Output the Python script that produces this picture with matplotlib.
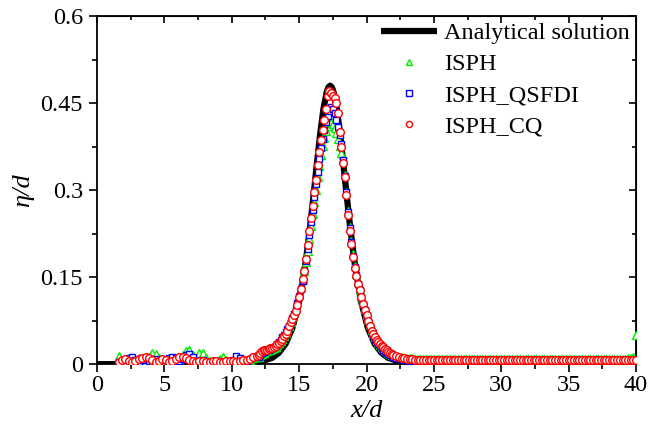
import numpy as np
import matplotlib
matplotlib.use("Agg")
import matplotlib.pyplot as plt
from matplotlib.ticker import MultipleLocator

plt.rcParams['font.family'] = ['Liberation Serif', 'DejaVu Serif']

# analytical solitary wave profile
x_exact = [0.0, 2.0, 4.0, 6.0, 8.0, 10.0, 11.0, 12.0, 13.0, 13.5, 14.0, 14.5,
           15.0, 15.5, 15.8, 16.05, 16.3, 16.55, 16.8, 17.05, 17.175, 17.3,
           17.425, 17.55, 17.8, 18.05, 18.3, 18.55, 18.8, 19.1, 19.6, 20.1,
           20.6, 21.1, 21.6, 22.6, 23.6, 24.6, 27.0, 30.0, 35.0, 40.0]
eta_exact = [0.0, 0.0, 0.0, 0.0, 0.0, 0.0003, 0.001, 0.0033, 0.0109, 0.0197,
             0.0352, 0.0623, 0.1075, 0.178, 0.2337, 0.2864, 0.3416, 0.3946,
             0.4393, 0.4694, 0.4773, 0.480, 0.4773, 0.4694, 0.4393, 0.3946,
             0.3416, 0.2864, 0.2337, 0.178, 0.1075, 0.0623, 0.0352, 0.0197,
             0.0109, 0.0033, 0.001, 0.0003, 0.0, 0.0, 0.0, 0.0]

# particle positions on the free surface
x_left = np.arange(1.6, 11.9, 0.25)      # 42 points
x_mid = np.arange(12.0, 21.9, 0.125)     # 80 points
x_tail = np.arange(22.0, 40.01, 0.2)     # 91 points
x_sph = np.concatenate([x_left, x_mid, x_tail])

eta_isph = [
    # left
    0.014, 0.008, 0.005, 0.009, 0.006, 0.004, 0.010, 0.008, 0.005, 0.012,
    0.019, 0.017, 0.010, 0.006, 0.004, 0.008, 0.006, 0.004, 0.009, 0.015,
    0.022, 0.024, 0.016, 0.011, 0.019, 0.020, 0.010, 0.006, 0.004, 0.005,
    0.009, 0.013, 0.008, 0.004, 0.003, 0.005, 0.006, 0.004, 0.006, 0.008,
    0.010, 0.012,
    # wave
    0.012, 0.015, 0.018, 0.020, 0.022, 0.023, 0.024, 0.025, 0.026, 0.028,
    0.030, 0.033, 0.036, 0.040, 0.044, 0.049, 0.054, 0.060, 0.066, 0.073,
    0.081, 0.089, 0.098, 0.108, 0.120, 0.133, 0.146, 0.160, 0.176, 0.195,
    0.216, 0.238, 0.258, 0.280, 0.300, 0.322, 0.342, 0.360, 0.376, 0.390,
    0.402, 0.410, 0.416, 0.418, 0.414, 0.407, 0.398, 0.388, 0.376, 0.364,
    0.352, 0.326, 0.296, 0.264, 0.236, 0.212, 0.190, 0.170, 0.155, 0.141,
    0.128, 0.116, 0.105, 0.095, 0.085, 0.076, 0.067, 0.059, 0.052, 0.046,
    0.041, 0.037, 0.033, 0.030, 0.027, 0.024, 0.022, 0.020, 0.018, 0.016,
    # tail
    0.015, 0.014, 0.013, 0.012, 0.011, 0.011, 0.010, 0.010, 0.009, 0.009,
    0.009, 0.009, 0.009, 0.009, 0.009, 0.009, 0.009, 0.009, 0.009, 0.009,
    0.009, 0.009, 0.009, 0.009, 0.009, 0.009, 0.009, 0.009, 0.009, 0.009,
    0.009, 0.009, 0.009, 0.009, 0.009, 0.009, 0.009, 0.009, 0.009, 0.009,
    0.009, 0.009, 0.009, 0.009, 0.009, 0.009, 0.009, 0.009, 0.009, 0.009,
    0.009, 0.009, 0.009, 0.009, 0.009, 0.009, 0.009, 0.009, 0.009, 0.009,
    0.009, 0.009, 0.009, 0.009, 0.009, 0.009, 0.009, 0.009, 0.009, 0.009,
    0.009, 0.009, 0.009, 0.009, 0.009, 0.009, 0.009, 0.009, 0.009, 0.009,
    0.009, 0.009, 0.009, 0.009, 0.009, 0.009, 0.009, 0.010, 0.010, 0.013,
    0.050,
]

eta_qsfdi = [
    # left
    0.003, 0.006, 0.004, 0.010, 0.013, 0.008, 0.004, 0.007, 0.010, 0.006,
    0.003, 0.009, 0.006, 0.004, 0.008, 0.011, 0.012, 0.010, 0.005, 0.009,
    0.015, 0.018, 0.012, 0.006, 0.004, 0.007, 0.003, 0.002, 0.004, 0.006,
    0.005, 0.003, 0.002, 0.004, 0.007, 0.014, 0.011, 0.008, 0.005, 0.009,
    0.012, 0.014,
    # wave
    0.013, 0.016, 0.019, 0.021, 0.023, 0.024, 0.025, 0.026, 0.027, 0.029,
    0.031, 0.034, 0.038, 0.042, 0.046, 0.050, 0.055, 0.060, 0.066, 0.072,
    0.079, 0.087, 0.095, 0.105, 0.117, 0.130, 0.144, 0.160, 0.178, 0.198,
    0.222, 0.245, 0.265, 0.288, 0.310, 0.332, 0.354, 0.372, 0.388, 0.404,
    0.418, 0.428, 0.436, 0.444, 0.440, 0.432, 0.420, 0.408, 0.395, 0.380,
    0.352, 0.325, 0.296, 0.262, 0.234, 0.210, 0.187, 0.168, 0.153, 0.139,
    0.127, 0.115, 0.103, 0.093, 0.083, 0.073, 0.064, 0.056, 0.050, 0.044,
    0.039, 0.035, 0.031, 0.028, 0.025, 0.022, 0.020, 0.018, 0.016, 0.014,
    # tail
    0.012, 0.011, 0.010, 0.009, 0.008, 0.007, 0.006, 0.006, 0.005, 0.005,
    0.005, 0.004, 0.004, 0.004, 0.004, 0.004, 0.004, 0.004, 0.004, 0.004,
    0.004, 0.004, 0.004, 0.004, 0.004, 0.004, 0.004, 0.004, 0.004, 0.004,
    0.004, 0.004, 0.004, 0.004, 0.004, 0.004, 0.004, 0.004, 0.004, 0.004,
    0.004, 0.004, 0.004, 0.004, 0.004, 0.004, 0.004, 0.004, 0.004, 0.004,
    0.004, 0.004, 0.004, 0.004, 0.004, 0.004, 0.004, 0.004, 0.004, 0.004,
    0.004, 0.004, 0.004, 0.004, 0.004, 0.004, 0.004, 0.004, 0.004, 0.004,
    0.004, 0.004, 0.004, 0.004, 0.004, 0.004, 0.004, 0.004, 0.004, 0.004,
    0.004, 0.004, 0.004, 0.004, 0.004, 0.004, 0.004, 0.004, 0.004, 0.004,
    0.004,
]

eta_cq = [
    # left
    0.004, 0.007, 0.009, 0.006, 0.004, 0.006, 0.009, 0.011, 0.012, 0.010,
    0.007, 0.004, 0.006, 0.009, 0.007, 0.004, 0.005, 0.009, 0.012, 0.013,
    0.011, 0.008, 0.006, 0.004, 0.005, 0.006, 0.004, 0.004, 0.005, 0.005,
    0.004, 0.004, 0.005, 0.006, 0.005, 0.004, 0.006, 0.008, 0.007, 0.009,
    0.012, 0.014,
    # wave
    0.016, 0.019, 0.022, 0.024, 0.024, 0.025, 0.026, 0.027, 0.028, 0.029,
    0.031, 0.034, 0.037, 0.040, 0.044, 0.048, 0.052, 0.057, 0.065, 0.072,
    0.078, 0.084, 0.092, 0.102, 0.115, 0.130, 0.146, 0.160, 0.182, 0.205,
    0.230, 0.252, 0.272, 0.297, 0.318, 0.343, 0.366, 0.386, 0.404, 0.420,
    0.440, 0.462, 0.470, 0.467, 0.463, 0.458, 0.450, 0.432, 0.400, 0.374,
    0.346, 0.322, 0.292, 0.257, 0.230, 0.207, 0.184, 0.166, 0.152, 0.138,
    0.127, 0.116, 0.104, 0.094, 0.084, 0.075, 0.066, 0.058, 0.052, 0.046,
    0.042, 0.038, 0.034, 0.031, 0.029, 0.026, 0.024, 0.021, 0.019, 0.017,
    # tail
    0.015, 0.0135, 0.012, 0.011, 0.010, 0.0095, 0.009, 0.0085, 0.008, 0.0078,
    0.0076, 0.0074, 0.0072, 0.0071, 0.007, 0.007, 0.007, 0.007, 0.007, 0.007,
    0.007, 0.007, 0.007, 0.007, 0.007, 0.007, 0.007, 0.007, 0.007, 0.007,
    0.007, 0.007, 0.007, 0.007, 0.007, 0.007, 0.007, 0.007, 0.007, 0.007,
    0.007, 0.007, 0.007, 0.007, 0.007, 0.007, 0.007, 0.007, 0.007, 0.007,
    0.007, 0.007, 0.007, 0.007, 0.007, 0.007, 0.007, 0.007, 0.007, 0.007,
    0.007, 0.007, 0.007, 0.007, 0.007, 0.007, 0.007, 0.007, 0.007, 0.007,
    0.007, 0.007, 0.007, 0.007, 0.007, 0.007, 0.007, 0.007, 0.007, 0.007,
    0.007, 0.007, 0.007, 0.007, 0.007, 0.007, 0.007, 0.007, 0.007, 0.007,
    0.007,
]

x_ticks = [0, 5, 10, 15, 20, 25, 30, 35, 40]
y_ticks = [0, 0.15, 0.3, 0.45, 0.6]
y_tick_labels = ['0', '0.15', '0.3', '0.45', '0.6']

fig = plt.figure(figsize=(6.51, 4.33), dpi=100)
ax = fig.add_axes([0.149, 0.159, 0.828, 0.804])

ax.plot(x_exact, eta_exact, color='black', lw=4.5, label='Analytical solution',
        solid_capstyle='butt', zorder=2)
ms = 5.5
ax.plot(x_sph, eta_isph, ls='none', marker='^', ms=ms, mfc='white', mec='#00ee00',
        mew=1.0, label='ISPH', zorder=3)
ax.plot(x_sph, eta_qsfdi, ls='none', marker='s', ms=ms - 0.5, mfc='white', mec='#0000ff',
        mew=1.0, label='ISPH_QSFDI', zorder=4)
ax.plot(x_sph, eta_cq, ls='none', marker='o', ms=ms, mfc='white', mec='#ff0000',
        mew=1.0, label='ISPH_CQ', zorder=5)

ax.set_xlim(0, 40)
ax.set_ylim(0, 0.6)
ax.set_xticks(x_ticks)
ax.set_yticks(y_ticks)
ax.set_yticklabels(y_tick_labels)
ax.xaxis.set_minor_locator(MultipleLocator(2.5))
ax.yaxis.set_minor_locator(MultipleLocator(0.075))
ax.tick_params(which='both', direction='out', top=False, right=False, width=1.2,
               labelsize=17.5)
ax.tick_params(which='major', length=6)
ax.tick_params(which='minor', length=3.5)
ax.tick_params(axis='x', pad=2)
ax.tick_params(axis='y', pad=4)

# inward ticks on the top and right edges
sec_x = ax.secondary_xaxis('top')
sec_x.set_xticks(x_ticks)
sec_x.xaxis.set_minor_locator(MultipleLocator(2.5))
sec_x.tick_params(which='both', direction='in', labeltop=False, width=1.2)
sec_x.tick_params(which='major', length=5)
sec_x.tick_params(which='minor', length=3)
sec_y = ax.secondary_yaxis('right')
sec_y.set_yticks(y_ticks)
sec_y.yaxis.set_minor_locator(MultipleLocator(0.075))
sec_y.tick_params(which='both', direction='in', labelright=False, width=1.2)
sec_y.tick_params(which='major', length=5)
sec_y.tick_params(which='minor', length=3)
for s in ax.spines.values():
    s.set_linewidth(1.3)

ax.set_xlabel('x/d', fontsize=19, style='italic', labelpad=3)
ax.set_ylabel('η/d', fontsize=19, style='italic', labelpad=5)

ax.legend(loc='upper right', frameon=False, fontsize=17.5, handlelength=2.3,
          handletextpad=0.3, labelspacing=0.38, borderaxespad=0.1,
          borderpad=0.15, markerscale=0.8)

fig.savefig('out.png', dpi=100)
